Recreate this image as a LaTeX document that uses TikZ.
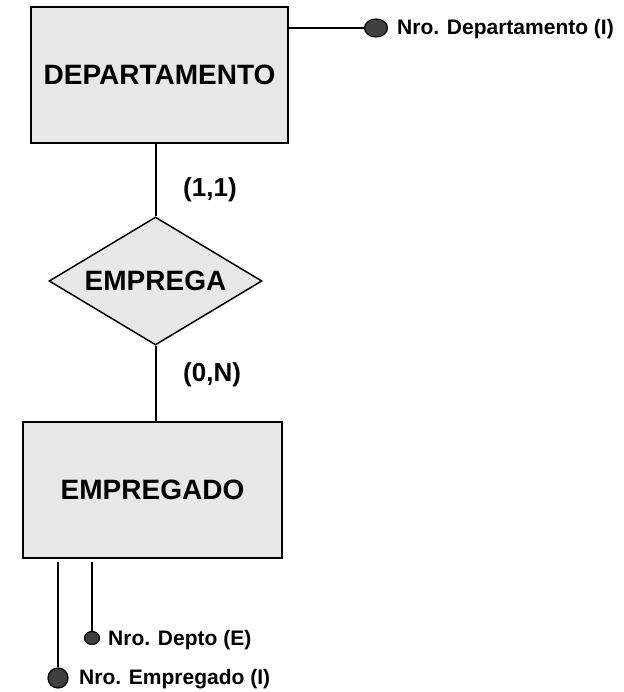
\documentclass[tikz,border=0pt]{standalone}
\usepackage{fontspec}
\setmainfont{Liberation Sans}
\usetikzlibrary{shapes.geometric}
\definecolor{boxfill}{HTML}{E8E8E8}
\definecolor{dotfill}{HTML}{404040}
\tikzset{
  entity/.style={draw=black, line width=2.6pt, fill=boxfill, inner sep=0pt,
    font=\fontsize{28}{28}\selectfont\bfseries},
  relation/.style={draw=black, line width=1.5pt, fill=boxfill, diamond, aspect=1.664, inner sep=0pt,
    minimum width=213pt, minimum height=128pt, font=\fontsize{28}{28}\selectfont\bfseries},
  card/.style={anchor=west, inner sep=0pt, font=\fontsize{26}{26}\selectfont\bfseries},
  attrtext/.style={anchor=west, inner sep=0pt, font=\fontsize{21}{21}\selectfont\bfseries},
  dot/.style={draw=black, line width=1.2pt, fill=dotfill, ellipse, inner sep=0pt},
  conn/.style={draw=black, line width=2pt},
}
\begin{document}
\begin{tikzpicture}[x=1pt,y=1pt]
\useasboundingbox (0,0) rectangle (623,-692);
% entities
\node[entity, minimum width=257pt, minimum height=136pt] (dep) at (159.5,-75) {DEPARTAMENTO};
\node[entity, minimum width=259pt, minimum height=136pt] (emp) at (152.5,-490) {EMPREGADO};
% relationship
\node[relation] (rel) at (155.5,-281) {EMPREGA};
% cardinalities
\node[card] (c1) at (183,-190) {(1,1)};
\node[card] (c2) at (183,-375) {(0,N)};
% attributes
\node[dot, minimum width=23pt, minimum height=18pt] (a1) at (376,-28) {};
\node[attrtext] (t1) at (397,-29) {Nro. Departamento (I)};
\node[dot, minimum width=15pt, minimum height=13pt] (a2) at (92,-638) {};
\node[attrtext] (t2) at (108,-640) {Nro. Depto (E)};
\node[dot, minimum width=20pt, minimum height=20pt] (a3) at (58,-678) {};
\node[attrtext] (t3) at (79,-679) {Nro. Empregado (I)};
% connectors
\draw[conn] (dep.south -| rel.north) -- (rel.north);
\draw[conn] (rel.south) -- (rel.south |- emp.north);
\draw[conn] (dep.east |- a1.west) -- (a1.west);
\coordinate (e1) at (58,-562);
\coordinate (e2) at (92,-562);
\draw[conn] (e1) -- (a3.north);
\draw[conn, line width=1.6pt] (e2) -- (a2.north);
\end{tikzpicture}
\end{document}
